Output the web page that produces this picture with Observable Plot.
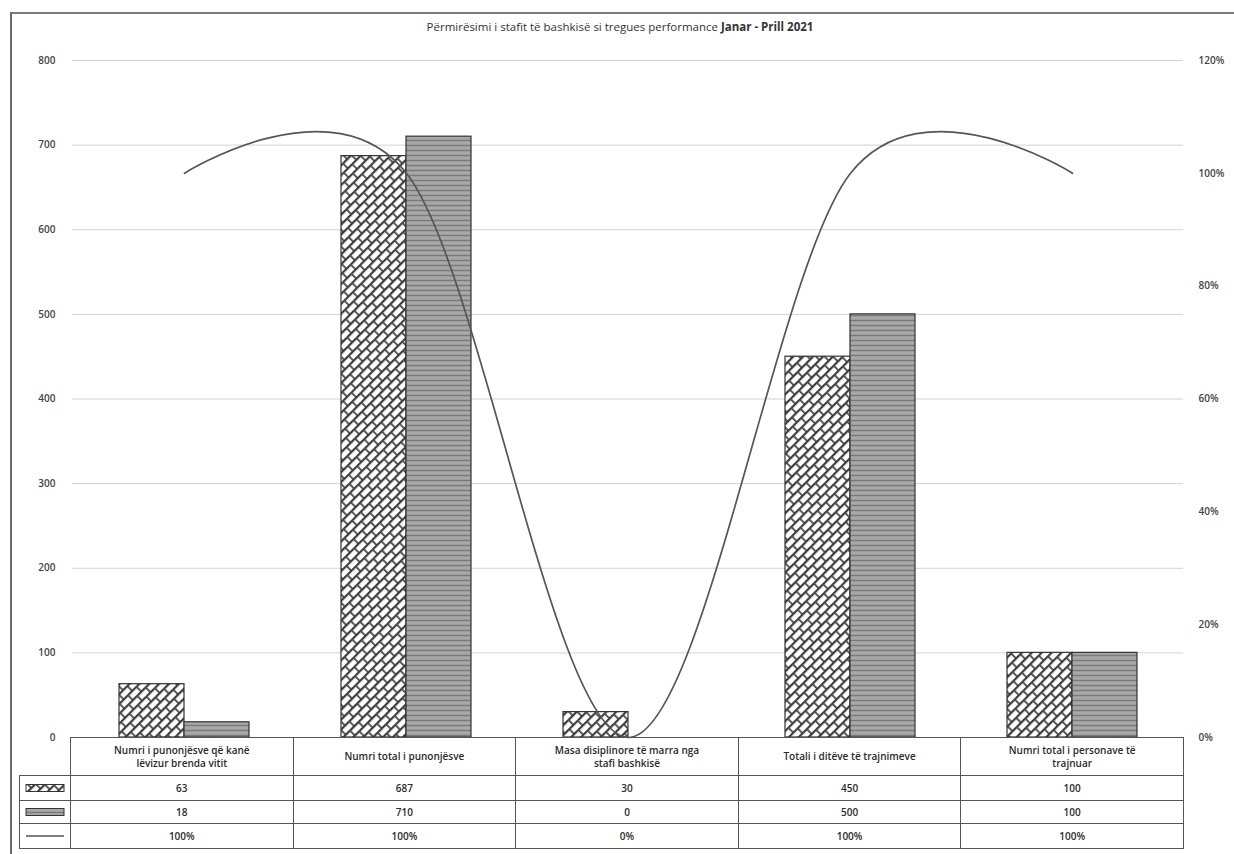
<!DOCTYPE html>
<html>
<head>
<meta charset="utf-8">
<script src="https://cdn.jsdelivr.net/npm/d3@7"></script>
<script src="https://cdn.jsdelivr.net/npm/@observablehq/plot@0.6"></script>
<style>
  html, body { margin: 0; padding: 0; background: #fff; }
  #wrap { position: relative; width: 1234px; height: 854px; overflow: hidden; font-family: "Open Sans", "Noto Sans", sans-serif; }
  #frame { position: absolute; left: 10px; top: 12px; right: -4px; bottom: -4px; border-left: 2px solid #6a6a6a; border-top: 2px solid #7a7a7a; }
  #title { position: absolute; left: 0; width: 1240px; top: 19px; text-align: center; font-size: 11.5px; color: #333; }
  #chart { position: absolute; left: 0; top: 0; }
  #tbl { position: absolute; left: 19px; top: 737px; border-collapse: collapse; table-layout: fixed; font-size: 10px; color: #2a2a2a; font-weight: 600; }
  #tbl td { border: 1.5px solid #555; text-align: center; padding: 0; line-height: 13px; white-space: pre-line; }
  #tbl td.empty { border-top: none; border-left: none; }
</style>
</head>
<body>
<div id="wrap">
  <div id="frame"></div>
  <div id="chart"></div>
  <div id="title"></div>
  <table id="tbl"></table>
</div>
<script>
// ---- data ----
const titleText = "Përmirësimi i stafit të bashkisë si tregues performance ";
const titleBold = "Janar - Prill 2021";
const categories = [
  "Numri i punonjësve që kanë\nlëvizur brenda vitit",
  "Numri total i punonjësve",
  "Masa disiplinore të marra nga\nstafi bashkisë",
  "Totali i ditëve të trajnimeve",
  "Numri total i personave të\ntrajnuar"
];
const series1 = [63, 687, 30, 450, 100];
const series2 = [18, 710, 0, 500, 100];
const linePct = [1, 1, 0, 1, 1];
const leftTicks = [0, 100, 200, 300, 400, 500, 600, 700, 800];
const pctTicks = [0, 0.2, 0.4, 0.6, 0.8, 1.0, 1.2];
const yMax = 800, pctMax = 1.2;

// ---- build ----
const toY = p => p / pctMax * yMax;
const rows = categories.map((c, i) => ({cat: c, s1: series1[i], s2: series2[i], pct: linePct[i]}));

document.getElementById("title").innerHTML = titleText + "<b>" + titleBold + "</b>";

const chart = Plot.plot({
  width: 1234,
  height: 752,
  marginTop: 60,
  marginBottom: 15,
  marginLeft: 72,
  marginRight: 51,
  style: {fontFamily: "'Open Sans', sans-serif", fontSize: "10px", color: "#333", background: "transparent", overflow: "visible"},
  x: {domain: categories, type: "band", padding: 0, axis: null},
  y: {domain: [0, yMax], axis: null},
  marks: [
    Plot.gridY(leftTicks.filter(d => d > 0), {stroke: "#d2d2d2", strokeOpacity: 1, strokeWidth: 1}),
    Plot.axisY(leftTicks, {anchor: "left", tickSize: 0, tickPadding: 17, fontWeight: 600, fill: "#444"}),
    Plot.axisY(pctTicks.map(toY), {anchor: "right", tickSize: 0, tickPadding: 15, fontWeight: 600, fill: "#444",
      tickFormat: d => Math.round(d / yMax * pctMax * 100) + "%"}),
    Plot.barY(rows.filter(d => d.s1 > 0), {x: "cat", y: "s1", fill: "url(#hatch)", stroke: "#333", strokeWidth: 1.2, insetLeft: 46, insetRight: 111}),
    Plot.barY(rows.filter(d => d.s2 > 0), {x: "cat", y: "s2", fill: "url(#hstripe)", stroke: "#333", strokeWidth: 1.2, insetLeft: 111, insetRight: 46}),
    Plot.line(rows, {x: "cat", y: d => toY(d.pct), curve: "cardinal", stroke: "#555", strokeWidth: 1.7})
  ]
});

d3.select(chart).insert("defs", ":first-child").html(`
  <pattern id="hatch" patternUnits="userSpaceOnUse" width="12" height="14" patternTransform="rotate(-45)">
    <rect width="12" height="14" fill="#fff"/>
    <rect x="0" y="0" width="12" height="2.2" fill="#3c3c3c"/>
    <rect x="0" y="7" width="12" height="2.2" fill="#3c3c3c"/>
    <rect x="0" y="0" width="1.8" height="7" fill="#4a4a4a"/>
    <rect x="6" y="7" width="1.8" height="7" fill="#4a4a4a"/>
  </pattern>
  <pattern id="hstripe" patternUnits="userSpaceOnUse" width="6" height="5">
    <rect width="6" height="5" fill="#9d9d9d"/>
    <rect x="0" y="0" width="6" height="1" fill="#7a7a7a"/>
    <rect x="0" y="2.5" width="6" height="1" fill="#b3b3b3"/>
  </pattern>
`);
document.getElementById("chart").appendChild(chart);

// ---- data table ----
const tbl = d3.select("#tbl");
const colW = (1183 - 70) / categories.length;
const cg = tbl.append("colgroup");
cg.append("col").style("width", "51px");
categories.forEach(() => cg.append("col").style("width", colW + "px"));

const hdr = tbl.append("tr").style("height", "38px");
hdr.append("td").attr("class", "empty").style("border-top", "none").style("border-left", "none");
categories.forEach(c => hdr.append("td").text(c));

const swatch = (kind) => {
  if (kind === "line") return `<svg width="40" height="10"><line x1="1" y1="5" x2="39" y2="5" stroke="#555" stroke-width="1.7"/></svg>`;
  const fill = kind === "s1" ? "url(#hatch)" : "url(#hstripe)";
  return `<svg width="40" height="10"><rect x="1" y="1.5" width="38" height="7" fill="${fill}" stroke="#333" stroke-width="1"/></svg>`;
};
const tableRows = [
  {kind: "s1", vals: series1.map(String), h: 25},
  {kind: "s2", vals: series2.map(String), h: 23},
  {kind: "line", vals: linePct.map(p => Math.round(p * 100) + "%"), h: 25}
];
tableRows.forEach(r => {
  const tr = tbl.append("tr").style("height", r.h + "px");
  tr.append("td").style("line-height", "0").html(swatch(r.kind));
  r.vals.forEach(v => tr.append("td").text(v));
});
</script>
</body>
</html>
